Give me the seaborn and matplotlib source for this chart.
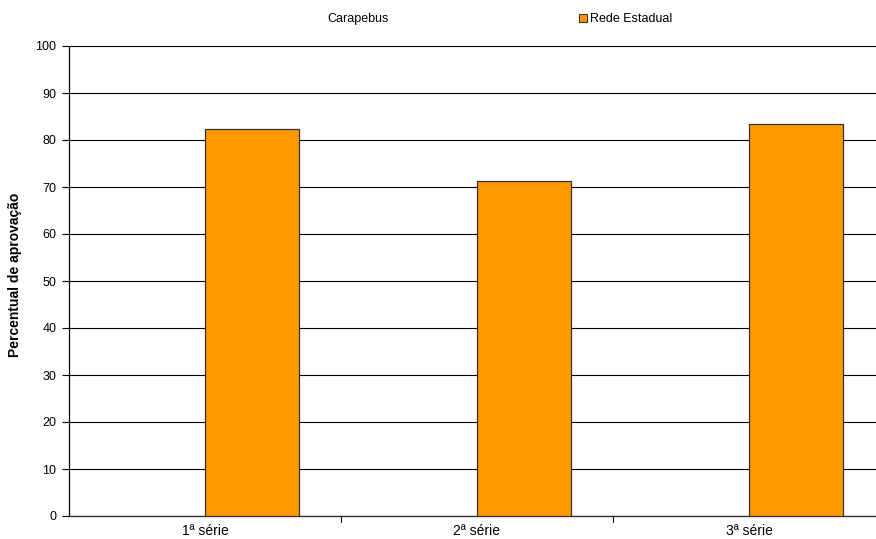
import numpy as np
import pandas as pd
import matplotlib
matplotlib.use("Agg")
import matplotlib.pyplot as plt
from matplotlib.patches import Patch
import seaborn as sns

categories = ["1ª série", "2ª série", "3ª série"]
carapebus = [np.nan, np.nan, np.nan]
rede_estadual = [82.3, 71.3, 83.4]
y_ticks = [0, 10, 20, 30, 40, 50, 60, 70, 80, 90, 100]

sns.set_theme(style="white")
plt.rcParams["font.family"] = ["Liberation Sans", "DejaVu Sans"]
plt.rcParams["text.color"] = "#000000"
plt.rcParams["axes.labelcolor"] = "#000000"
plt.rcParams["xtick.color"] = "#000000"
plt.rcParams["ytick.color"] = "#000000"

df = pd.DataFrame({
    "serie": categories * 2,
    "grupo": ["Carapebus"] * 3 + ["Rede Estadual"] * 3,
    "valor": carapebus + rede_estadual,
})

fig = plt.figure(figsize=(8.76, 5.39), dpi=100)
W, H = 876, 539
ax = fig.add_axes([69 / W, 1 - 516 / H, 816 / W, 470 / H])

sns.barplot(data=df, x="serie", y="valor", hue="grupo",
            palette={"Carapebus": "#FFFFFF", "Rede Estadual": "#FF9900"},
            saturation=1, width=0.69, gap=0, edgecolor="#333333", linewidth=0.9,
            legend=False, ax=ax, zorder=3)

ax.set_ylim(0, 100)
ax.set_xlim(-0.5, 2.5)
ax.set_yticks(y_ticks)
ax.set_yticklabels([str(t) for t in y_ticks], fontsize=9)
ax.yaxis.grid(True, color="#000000", linewidth=0.8, zorder=0)
ax.set_axisbelow(True)
ax.set_xticks([0, 1, 2])
ax.set_xticklabels(categories, fontsize=10)
ax.tick_params(axis="x", length=0, pad=6)
ax.tick_params(axis="y", length=5, width=0.8, color="#000000", pad=4, direction="out", left=True)
# category separators on the x axis
for sep in [0.5, 1.5]:
    ax.plot([sep, sep], [0, -0.012], transform=ax.get_xaxis_transform(),
            color="#000000", lw=0.8, clip_on=False)

for side in ["top", "right"]:
    ax.spines[side].set_visible(False)
ax.spines["left"].set_color("#000000")
ax.spines["left"].set_linewidth(0.9)
ax.spines["bottom"].set_color("#333333")
ax.spines["bottom"].set_linewidth(1.0)

ax.set_xlabel("")
ax.set_ylabel("Percentual de aprovação", fontsize=10, fontweight="bold")
ax.yaxis.set_label_coords(-47 / 816, 0.513)

# legend
fig.text(327 / W, 1 - 19 / H, "Carapebus", fontsize=9, va="center", ha="left")
handles = [Patch(facecolor="#FF9900", edgecolor="#333333", linewidth=0.8)]
fig.legend(handles, ["Rede Estadual"], loc="center left",
           bbox_to_anchor=(573 / W, 1 - 19 / H), frameon=False, fontsize=9,
           handlelength=0.6, handleheight=0.6, handletextpad=0.3, borderpad=0)

fig.savefig("out.png", dpi=100)
